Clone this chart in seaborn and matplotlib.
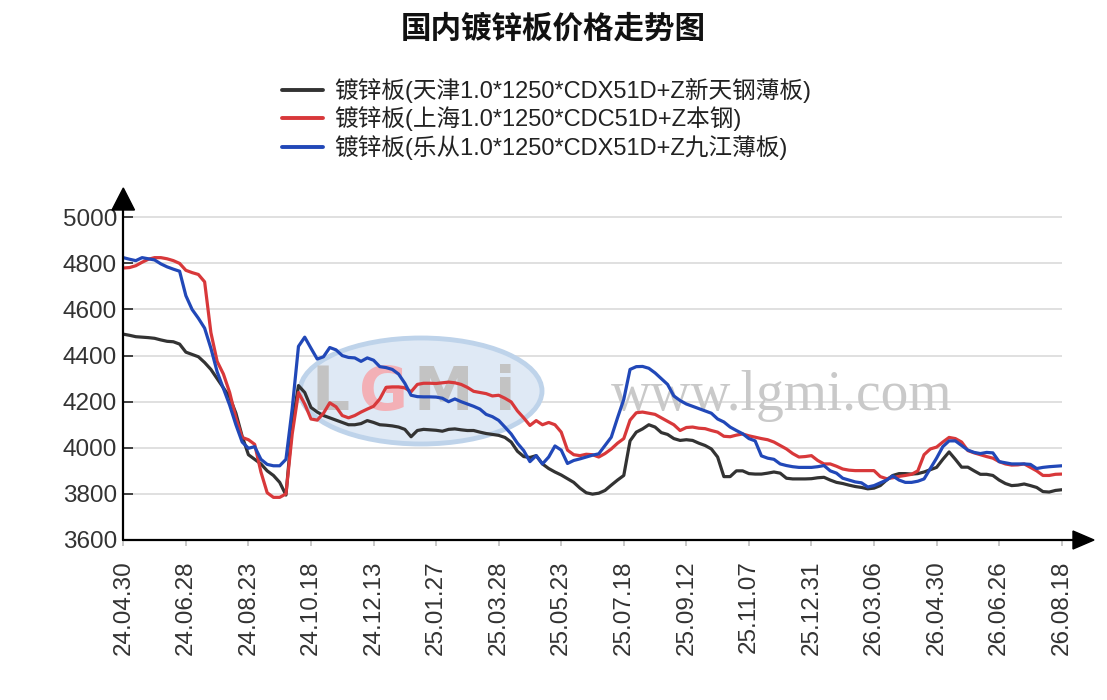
import numpy as np
import pandas as pd
import matplotlib
matplotlib.use("Agg")
import matplotlib.pyplot as plt
import seaborn as sns
from matplotlib.lines import Line2D
from matplotlib.patches import Polygon, Ellipse

# ---------------- data ----------------
tick_labels = ["24.04.30", "24.06.28", "24.08.23", "24.10.18", "24.12.13", "25.01.27",
               "25.03.28", "25.05.23", "25.07.18", "25.09.12", "25.11.07", "25.12.31",
               "26.03.06", "26.04.30", "26.06.26", "26.08.18"]

series_names = ["镀锌板(天津1.0*1250*CDX51D+Z新天钢薄板)",
                "镀锌板(上海1.0*1250*CDC51D+Z本钢)",
                "镀锌板(乐从1.0*1250*CDX51D+Z九江薄板)"]

tianjin = [4493, 4488, 4482, 4480, 4478, 4475, 4468, 4462, 4460, 4450,
           4415, 4405, 4395, 4370, 4340, 4300, 4260, 4220, 4150, 4050,
           3970, 3950, 3930, 3900, 3880, 3850, 3795, 4100, 4270, 4240,
           4175, 4155, 4140, 4130, 4120, 4110, 4100, 4100, 4105, 4118,
           4110, 4100, 4098, 4095, 4090, 4080, 4048, 4075, 4080, 4078,
           4076, 4072, 4080, 4082, 4078, 4075, 4075, 4068, 4062, 4058,
           4054, 4045, 4025, 3985, 3962, 3958, 3966, 3930, 3910, 3895,
           3882, 3866, 3850, 3825, 3805, 3799, 3803, 3815, 3838, 3860,
           3880, 4030, 4068, 4082, 4100, 4090, 4066, 4058, 4040, 4032,
           4035, 4032, 4020, 4010, 3995, 3960, 3875, 3875, 3900, 3900,
           3888, 3886, 3886, 3890, 3895, 3890, 3868, 3865, 3865, 3865,
           3866, 3870, 3872, 3860, 3850, 3845, 3838, 3832, 3828, 3822,
           3825, 3836, 3860, 3880, 3888, 3888, 3886, 3888, 3895, 3905,
           3915, 3950, 3982, 3950, 3916, 3916, 3900, 3885, 3885, 3880,
           3860, 3845, 3836, 3838, 3843, 3836, 3828, 3810, 3808, 3815,
           3818]

shanghai = [4780, 4782, 4790, 4805, 4818, 4825, 4825, 4820, 4812, 4800,
            4770, 4760, 4752, 4720, 4500, 4375, 4320, 4240, 4130, 4045,
            4035, 4015, 3895, 3805, 3785, 3785, 3800, 4060, 4240, 4190,
            4125, 4120, 4150, 4195, 4178, 4140, 4130, 4140, 4155, 4168,
            4180, 4212, 4262, 4264, 4264, 4260, 4243, 4275, 4280, 4280,
            4279, 4282, 4285, 4282, 4275, 4262, 4245, 4240, 4235, 4225,
            4228, 4215, 4199, 4160, 4130, 4097, 4118, 4100, 4110, 4100,
            4068, 3990, 3970, 3966, 3972, 3970, 3960, 3975, 3995, 4020,
            4040, 4120, 4152, 4155, 4150, 4145, 4130, 4115, 4100, 4075,
            4088, 4090, 4085, 4083, 4075, 4068, 4050, 4048, 4055, 4060,
            4052, 4046, 4040, 4035, 4025, 4010, 3995, 3975, 3960, 3962,
            3966, 3945, 3930, 3930, 3920, 3908, 3903, 3901, 3901, 3901,
            3901, 3875, 3866, 3870, 3876, 3880, 3885, 3900, 3970, 3995,
            4003, 4025, 4045, 4040, 4025, 3988, 3978, 3970, 3962, 3955,
            3940, 3930, 3925, 3926, 3930, 3915, 3900, 3880, 3880, 3885,
            3886]

lecong = [4825, 4818, 4812, 4825, 4820, 4815, 4798, 4785, 4775, 4766,
          4660, 4600, 4562, 4519, 4432, 4330, 4257, 4185, 4100, 4025,
          3998, 4005, 3950, 3928, 3922, 3922, 3950, 4170, 4440, 4480,
          4432, 4385, 4395, 4435, 4425, 4400, 4392, 4390, 4375, 4390,
          4380, 4352, 4348, 4340, 4320, 4280, 4228, 4222, 4221, 4221,
          4220, 4215, 4200, 4212, 4200, 4190, 4180, 4168, 4145, 4135,
          4119, 4090, 4060, 4020, 3988, 3940, 3966, 3930, 3960, 4008,
          3990, 3932, 3945, 3952, 3960, 3968, 3974, 4010, 4046, 4130,
          4210, 4340, 4352, 4353, 4345, 4325, 4300, 4275, 4225, 4205,
          4190, 4180, 4170, 4160, 4150, 4125, 4112, 4090, 4075, 4061,
          4040, 4030, 3965, 3955, 3950, 3930, 3923, 3918, 3915, 3915,
          3915, 3918, 3923, 3900, 3890, 3868, 3860, 3852, 3848, 3830,
          3836, 3848, 3860, 3878, 3860, 3850, 3850, 3855, 3865, 3910,
          3955, 4005, 4030, 4030, 4010, 3990, 3980, 3975, 3980, 3978,
          3940, 3935, 3930, 3930, 3930, 3928, 3910, 3915, 3918, 3920,
          3922]

y_ticks = [3600, 3800, 4000, 4200, 4400, 4600, 4800, 5000]
colors = ["#333333", "#d8383a", "#2148b8"]

# ---------------- frame ----------------
sns.set_style("white")
plt.rcParams["font.family"] = ["Liberation Sans", "Noto Sans CJK SC", "DejaVu Sans"]

W, H = 1107, 700
fig = plt.figure(figsize=(W / 100, H / 100), dpi=100)
fig.patch.set_facecolor("white")

def fx(px):
    return px / W

def fy(py):
    return 1 - py / H

x0, x1 = 123.3, 1061.7
y_3600, y_5000 = 540.0, 217.3
top_px = 210.0
ppu = (y_3600 - y_5000) / 1400.0
ytop = 5000 + (y_5000 - top_px) / ppu
step_px = (x1 - x0) / 150.0
ax = fig.add_axes([fx(x0), fy(y_3600), (x1 - x0) / W, (y_3600 - top_px) / H])

n = len(tianjin)
idx = np.arange(n)
df = pd.concat([
    pd.DataFrame({"idx": idx, "price": vals, "series": name})
    for name, vals in zip(series_names, [tianjin, shanghai, lecong])
], ignore_index=True)

def dx(px):
    return (px - x0) / step_px

def dy(py):
    return 5000 - (py - y_5000) / ppu

# watermark (behind lines)
ax.add_patch(Ellipse((dx(421), dy(391)), 242 / step_px, 106 / ppu,
                     facecolor="#dfe9f5", edgecolor="#bed3ea", lw=3.5, zorder=0.6))
for ch, px, col in [("L", 331, "#c3c3c3"), ("G", 383, "#f3b0b6"),
                    ("M", 443, "#c3c3c3"), ("i", 505, "#c3c3c3")]:
    ax.text(dx(px), dy(394), ch, ha="center", va="center", fontsize=43,
            fontweight="bold", color=col, zorder=0.7, family=["DejaVu Sans"])
ax.text(dx(782), dy(396), "www.lgmi.com",
        ha="center", va="center", fontsize=40, color="#c9c9c9", zorder=0.7,
        family=["Liberation Serif"])

sns.lineplot(data=df, x="idx", y="price", hue="series", hue_order=series_names,
             palette=colors, linewidth=2.3, ax=ax, legend=True, zorder=3)

ax.set_xlim(0, n - 1)
ax.set_ylim(3600, ytop)
ax.set_xlabel("")
ax.set_ylabel("")
for s in ax.spines.values():
    s.set_visible(False)

ax.set_yticks(y_ticks)
ax.set_yticklabels([str(v) for v in y_ticks])
ax.set_xticks(np.arange(0, n, 10))
ax.set_xticklabels(tick_labels)
ax.yaxis.grid(True, color="#dadada", linewidth=1.2)
ax.xaxis.grid(False)
ax.set_axisbelow(True)
ax.tick_params(axis="y", direction="in", length=7.5, width=1.3, color="#333333",
               pad=4.5, labelsize=17.5, labelcolor="#333333", left=True)
ax.tick_params(axis="x", direction="out", length=4, width=1.3, color="#c4c4c4",
               pad=10.5, labelsize=17.5, labelcolor="#333333", labelrotation=90,
               bottom=True)

# legend
leg = ax.get_legend()
handles = leg.legend_handles
labels = [t.get_text() for t in leg.get_texts()]
for h in handles:
    h.set_linewidth(2.8)
ax.legend(handles, labels, loc="upper left", bbox_to_anchor=(fx(282), fy(78)),
          bbox_transform=fig.transFigure, frameon=False, fontsize=17,
          handlelength=1.75, handletextpad=0.45, labelspacing=0.15,
          borderpad=0, borderaxespad=0, labelcolor="#222222")

# axis lines with arrows
fig.add_artist(Line2D([fx(x0), fx(x0)], [fy(y_3600), fy(206)], transform=fig.transFigure,
                      color="black", lw=1.6))
fig.add_artist(Line2D([fx(x0), fx(1075)], [fy(y_3600), fy(y_3600)], transform=fig.transFigure,
                      color="black", lw=1.6))
fig.add_artist(Polygon([[fx(112), fy(210)], [fx(134.5), fy(210)], [fx(x0), fy(188)]],
                       closed=True, transform=fig.transFigure, color="black"))
fig.add_artist(Polygon([[fx(1073), fy(531)], [fx(1073), fy(549)], [fx(1094), fy(y_3600)]],
                       closed=True, transform=fig.transFigure, color="black"))

fig.text(fx(553), fy(29), "国内镀锌板价格走势图", ha="center", va="center",
         fontsize=22, fontweight="bold", color="#111111",
         family=["Noto Sans CJK SC", "DejaVu Sans"])

fig.savefig("out.png", dpi=100, facecolor="white")
